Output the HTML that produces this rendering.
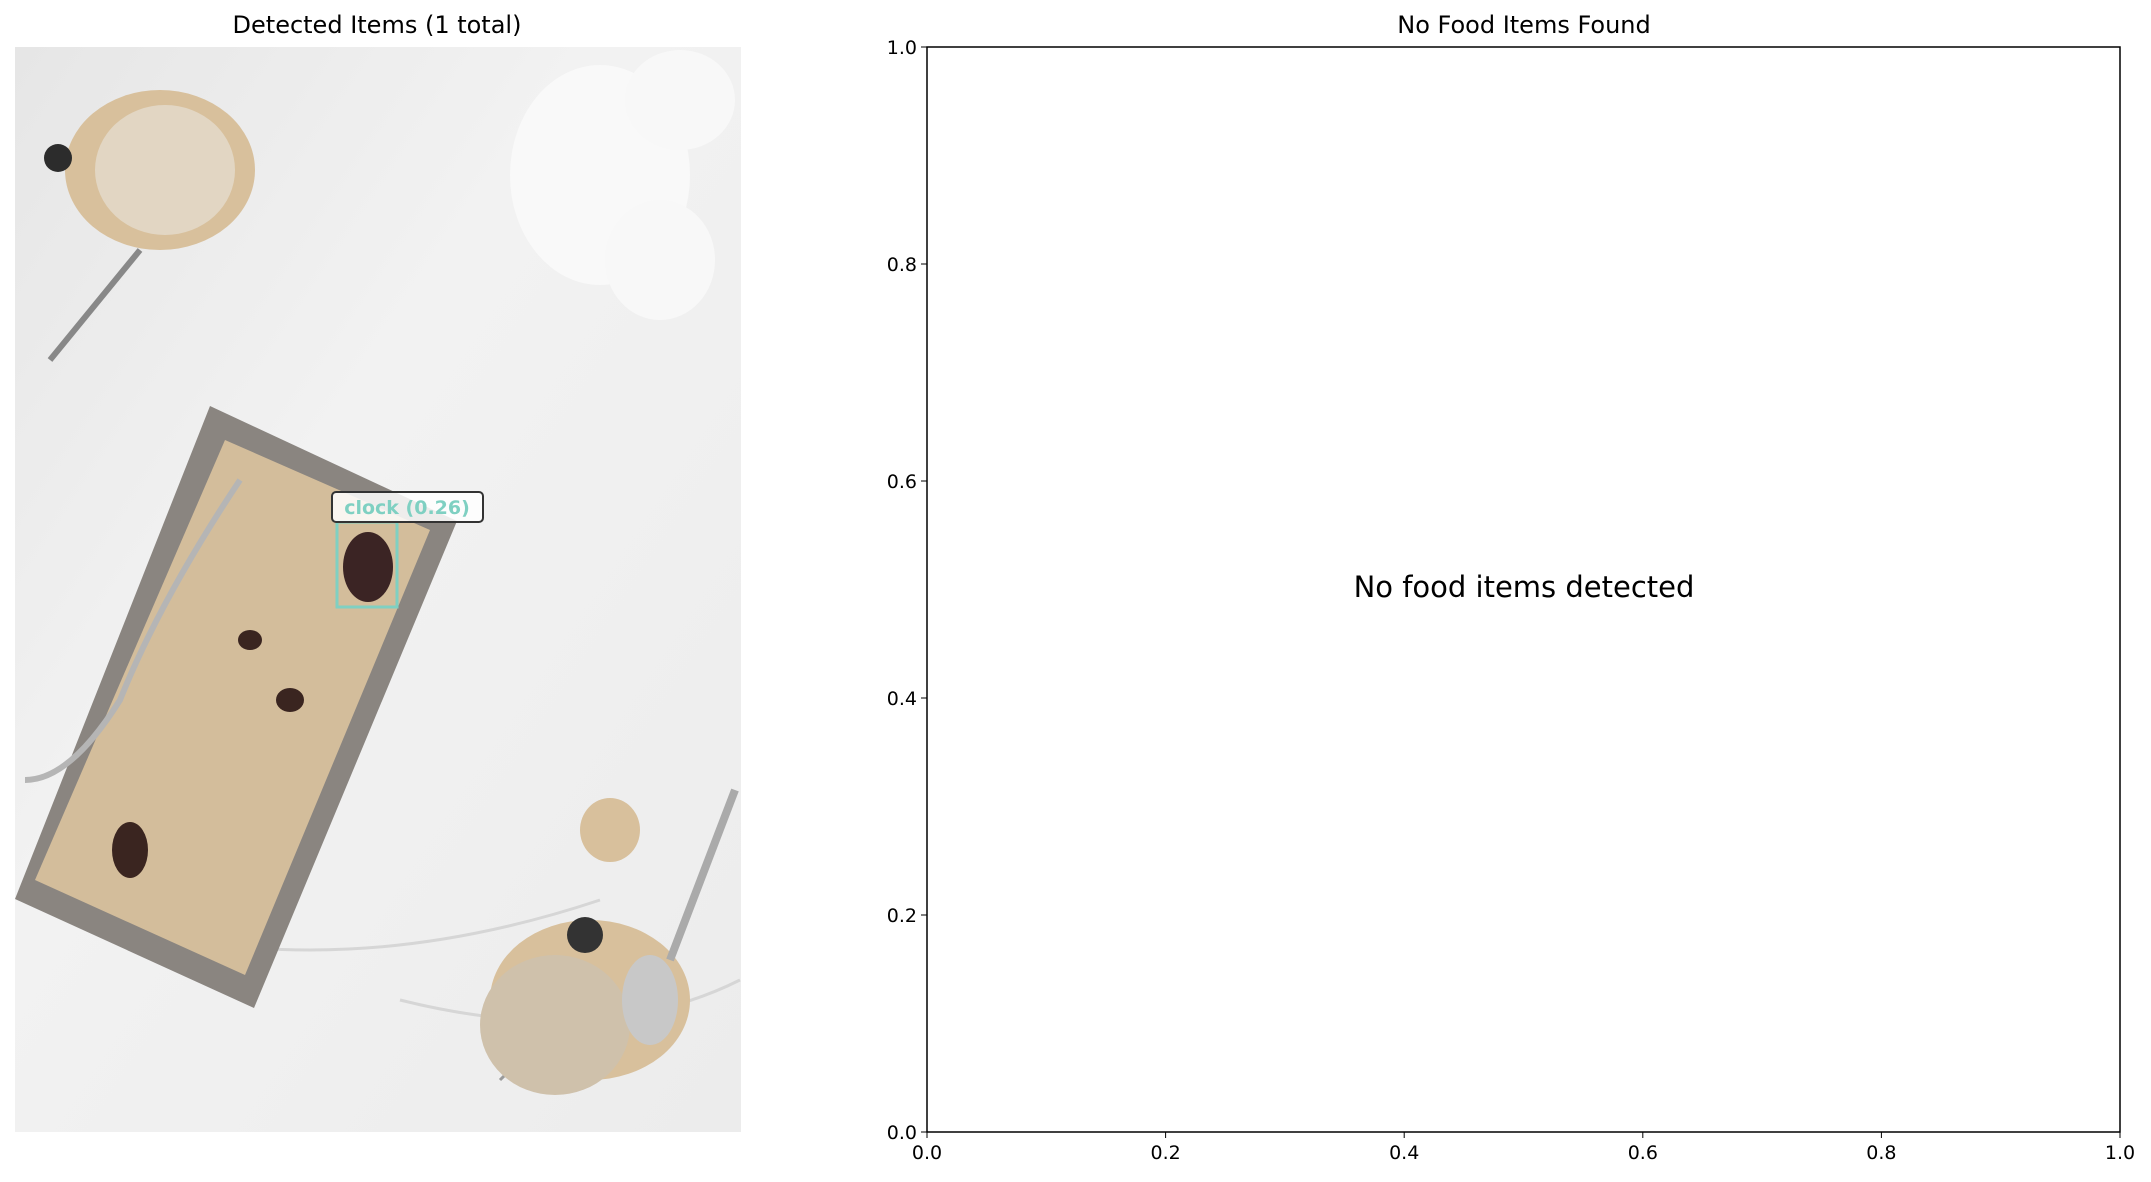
<!DOCTYPE html>
<html><head><meta charset="utf-8"><style>
html,body{margin:0;padding:0;background:#fff;width:2151px;height:1182px;overflow:hidden}
svg text{font-family:"DejaVu Sans","Liberation Sans",sans-serif}
</style></head><body>
<svg width="2151" height="1182" viewBox="0 0 2151 1182" xmlns="http://www.w3.org/2000/svg">
<defs>
<linearGradient id="marble" x1="0" y1="0" x2="1" y2="1">
<stop offset="0" stop-color="#e6e6e6"/><stop offset="0.4" stop-color="#f2f2f2"/><stop offset="1" stop-color="#ececec"/>
</linearGradient>
<clipPath id="imgclip"><rect x="15" y="47" width="726" height="1085"/></clipPath>
</defs>
<text x="377" y="33" font-size="24" text-anchor="middle">Detected Items (1 total)</text>
<g clip-path="url(#imgclip)">
<rect x="15" y="47" width="726" height="1085" fill="url(#marble)"/>
<path d="M40 900 Q 300 1000 600 900 M 400 1000 Q 600 1050 740 980" stroke="#d6d6d6" stroke-width="3" fill="none"/>
<path d="M500 1080 Q 560 1020 620 990" stroke="#9a9a9a" stroke-width="3" fill="none"/>
<ellipse cx="160" cy="170" rx="95" ry="80" fill="#d8c09c"/>
<ellipse cx="165" cy="170" rx="70" ry="65" fill="#e2d6c3"/>
<circle cx="58" cy="158" r="14" fill="#2c2c2c"/>
<path d="M140 250 L 50 360" stroke="#888" stroke-width="6"/>
<ellipse cx="600" cy="175" rx="90" ry="110" fill="#f9f9f9"/>
<ellipse cx="680" cy="100" rx="55" ry="50" fill="#f8f8f8"/>
<ellipse cx="660" cy="260" rx="55" ry="60" fill="#f8f8f8"/>
<polygon points="210,406 457,521 254,1008 15,899" fill="#8a8580"/>
<polygon points="225,440 430,530 245,975 35,880" fill="#d3bd9b"/>
<path d="M240 480 Q 160 600 120 700 Q 70 780 25 780" stroke="#b5b5b5" stroke-width="6" fill="none"/>
<ellipse cx="130" cy="850" rx="18" ry="28" fill="#3a2520"/>
<ellipse cx="250" cy="640" rx="12" ry="10" fill="#3a2520"/>
<ellipse cx="290" cy="700" rx="14" ry="12" fill="#3a2520"/>
<ellipse cx="610" cy="830" rx="30" ry="32" fill="#d8c09c"/>
<ellipse cx="590" cy="1000" rx="100" ry="80" fill="#d8c09c"/>
<ellipse cx="555" cy="1025" rx="75" ry="70" fill="#cfc1ab"/>
<circle cx="585" cy="935" r="18" fill="#333"/>
<ellipse cx="650" cy="1000" rx="28" ry="45" fill="#c8c8c8"/>
<path d="M670 960 L 735 790" stroke="#aaa" stroke-width="8"/>
<ellipse cx="368" cy="567" rx="25" ry="35" fill="#3b2424"/>
</g>
<rect x="337" y="522" width="60" height="85" fill="none" stroke="#7fd0c2" stroke-width="3"/>
<rect x="332" y="492" width="151" height="30" rx="4" fill="#fff" fill-opacity="0.85" stroke="#333" stroke-width="2"/>
<text x="407" y="514" font-size="19" font-weight="bold" fill="#7fd0c2" text-anchor="middle">clock (0.26)</text>

<text x="1524" y="33" font-size="24" text-anchor="middle">No Food Items Found</text>
<rect x="927" y="47" width="1193" height="1085" fill="none" stroke="#000" stroke-width="1.5"/>
<text x="1524" y="597" font-size="29" text-anchor="middle">No food items detected</text>
<g id="ticks" font-size="19"></g>
</svg>
<script>
const xTickLabels = ["0.0","0.2","0.4","0.6","0.8","1.0"];
const yTickLabels = ["0.0","0.2","0.4","0.6","0.8","1.0"];
const x0=927,x1=2120,y0=1132,y1=47;
const g=document.getElementById('ticks');
const ns='http://www.w3.org/2000/svg';
function xs(v){return x0+(x1-x0)*v;}
function ys(v){return y0-(y0-y1)*v;}
xTickLabels.forEach(function(l){
  const v=parseFloat(l), x=xs(v);
  const t=document.createElementNS(ns,'line');
  t.setAttribute('x1',x);t.setAttribute('x2',x);t.setAttribute('y1',y0);t.setAttribute('y2',y0+6);t.setAttribute('stroke','#000');
  
  
  g.appendChild(t);
  const s=document.createElementNS(ns,'text');
  s.setAttribute('x',x);s.setAttribute('y',y0+27);s.setAttribute('text-anchor','middle');s.textContent=l;
  
  
  g.appendChild(s);
});
yTickLabels.forEach(function(l){
  const v=parseFloat(l), y=ys(v);
  const t=document.createElementNS(ns,'line');
  t.setAttribute('x1',x0-6);t.setAttribute('x2',x0);t.setAttribute('y1',y);t.setAttribute('y2',y);t.setAttribute('stroke','#000');
  
  
  g.appendChild(t);
  const s=document.createElementNS(ns,'text');
  s.setAttribute('x',x0-10);s.setAttribute('y',y+7);s.setAttribute('text-anchor','end');s.textContent=l;
  
  
  g.appendChild(s);
});
</script>
</body></html>
